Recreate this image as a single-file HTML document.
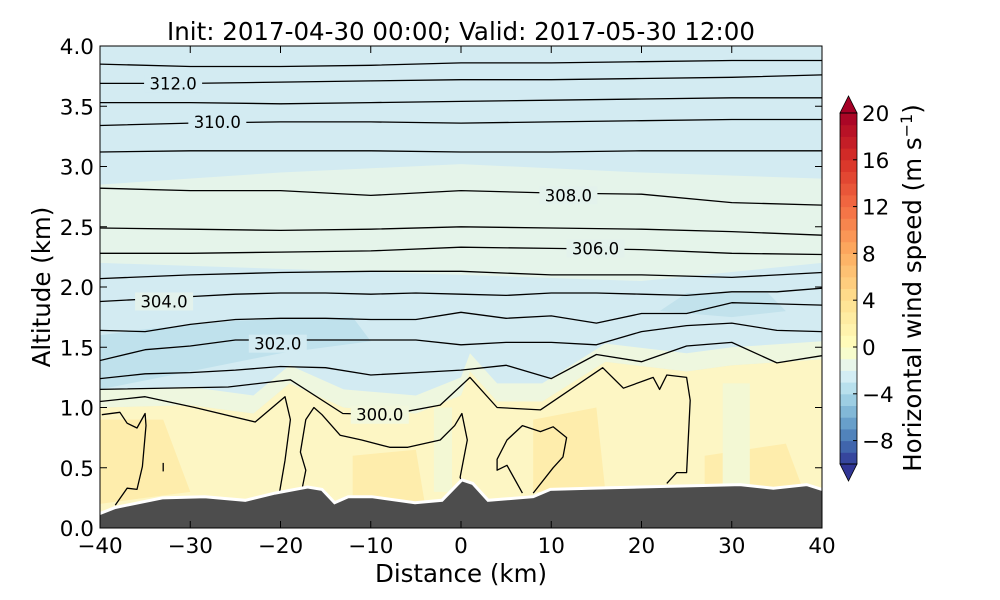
<!DOCTYPE html>
<html><head><meta charset="utf-8">
<style>
body{margin:0;background:#fff;}
svg{display:block;font-family:"DejaVu Sans","Liberation Sans",sans-serif;}
</style></head>
<body>
<svg id="chart" width="1000" height="600" viewBox="0 0 1000 600">
<text x="461" y="40" font-size="24.5" text-anchor="middle" fill="#000">Init: 2017-04-30 00:00; Valid: 2017-05-30 12:00</text>
<defs><clipPath id="plotclip"><rect x="100" y="46" width="722" height="482"/></clipPath></defs>
<g id="plot" clip-path="url(#plotclip)"></g>
<g id="axes"></g>
<g id="cbar"></g>
</svg>
<script>
// ---- data ----
const xTicks = [-40,-30,-20,-10,0,10,20,30,40];
const yTicks = [0.0,0.5,1.0,1.5,2.0,2.5,3.0,3.5,4.0];
const cbTicks = [-8,-4,0,4,8,12,16,20];
const terrainX = [-40,-38.3,-33.1,-28.4,-23.9,-20.6,-17.0,-15.4,-14.0,-12.5,-9.9,-5.1,-2.1,0.1,1.3,3.0,8.0,9.9,14.3,19.8,30.9,34.6,38.3,40];
const terrainZ = [0.12,0.17,0.25,0.26,0.23,0.29,0.34,0.32,0.21,0.26,0.26,0.21,0.23,0.40,0.37,0.23,0.26,0.32,0.33,0.34,0.36,0.33,0.36,0.32];
const coarseX = [-40,-30,-20,-10,0,10,20,30,40];
const lineU1 = [3.85,3.83,3.83,3.84,3.86,3.86,3.87,3.88,3.88];
const lineU2 = [3.69,3.69,3.70,3.71,3.72,3.72,3.73,3.74,3.76];
const lineU3 = [3.53,3.53,3.52,3.53,3.54,3.55,3.56,3.57,3.57];
const lineU4 = [3.34,3.36,3.37,3.37,3.36,3.37,3.38,3.39,3.39];
const lineU5 = [3.12,3.13,3.13,3.13,3.12,3.12,3.13,3.13,3.13];
const lineU6 = [2.82,2.80,2.80,2.76,2.80,2.78,2.77,2.70,2.68];
const lineU7 = [2.49,2.48,2.47,2.48,2.50,2.49,2.48,2.46,2.43];
const lineU8 = [2.28,2.28,2.29,2.30,2.33,2.32,2.31,2.28,2.27];
const lineU9 = [2.07,2.10,2.12,2.13,2.13,2.10,2.10,2.08,2.12];
const fineX = [-40,-35,-30,-25,-20,-15,-10,-5,0,5,10,15,20,25,30,35,40];
const lineL10 = [1.88,1.90,1.92,1.94,1.95,1.95,1.94,1.95,1.94,1.93,1.95,1.95,1.94,1.93,1.96,1.96,1.99];
const lineL11 = [1.64,1.63,1.69,1.73,1.74,1.74,1.73,1.73,1.79,1.74,1.76,1.70,1.78,1.78,1.87,1.86,1.85];
const lineL12 = [1.39,1.48,1.51,1.56,1.56,1.56,1.56,1.56,1.52,1.54,1.54,1.52,1.63,1.68,1.70,1.64,1.63];
const lineL13 = [1.24,1.28,1.29,1.31,1.34,1.33,1.27,1.29,1.31,1.35,1.24,1.44,1.38,1.51,1.54,1.37,1.43];
const line300 = [[-40,1.15],[-25.8,1.17],[-18.9,1.23],[-13.1,0.95],[-8,0.94],[-2.3,1.02],[1.0,1.25],[4.0,1.0],[8.8,0.98],[15.7,1.33],[18.0,1.16],[21.3,1.25],[22.0,1.15],[22.8,1.27],[25.0,1.25],[25.4,1.06],[25.0,0.46],[23.9,0.46],[22.8,0.37]];
const lineL15 = [[-40,1.05],[-35,1.09],[-29.5,1.0],[-22.8,0.88],[-19.5,1.09],[-18.9,0.90],[-19.5,0.56],[-20.1,0.30]];
const loopMid = [[-17.6,0.33],[-17.2,0.48],[-17.8,0.63],[-17.2,0.90],[-16.3,1.0],[-15.4,0.94],[-13.4,0.77],[-11.0,0.73],[-7.9,0.67],[-5.9,0.67],[-2.3,0.73],[-0.7,0.85],[0.1,0.95],[0.7,0.73],[-0.1,0.42],[0.3,0.35]];
const loopLeft = [[-39.8,0.94],[-37.8,0.96],[-37.0,0.87],[-35.9,0.83],[-35.0,0.95],[-34.9,0.85],[-35.3,0.51],[-35.9,0.32],[-37.0,0.33],[-38.3,0.19]];
const loopRight = [[8.0,0.29],[10.2,0.5],[11.3,0.59],[11.7,0.75],[10.2,0.84],[8.8,0.80],[6.8,0.85],[5.1,0.73],[4.0,0.57],[4.0,0.48],[5.1,0.52],[6.8,0.29]];
const smallTick = [[-33.0,0.54],[-33.0,0.47]];
const labelText = ["312.0","310.0","308.0","306.0","304.0","302.0","300.0"];
const labelX = [-31.9,-27.0,11.9,14.9,-32.9,-20.3,-9.0];
const labelZ = [3.69,3.37,2.76,2.32,1.88,1.53,0.94];
const yellowTopX = [-40,-30,-23,-19,-13,-5,0,1,4,9,16,25,30,40];
const yellowTopZ = [1.0,1.02,0.95,1.2,1.0,0.95,1.1,1.3,1.05,1.05,1.38,1.3,1.35,1.4];

// ---- scales ----
const X0=100,X1=822,Y0=528,Y1=46;
const sx = v => X0 + (v+40)/80*(X1-X0);
const sy = v => Y0 - v/4*(Y0-Y1);
const NS="http://www.w3.org/2000/svg";
function mk(tag, attrs, parent){const e=document.createElementNS(NS,tag);for(const k in attrs)e.setAttribute(k,attrs[k]);parent.appendChild(e);return e;}
const plot=document.getElementById('plot'), axes=document.getElementById('axes'), cbar=document.getElementById('cbar');
const pts = arr => arr.map(p=>sx(p[0]).toFixed(1)+','+sy(p[1]).toFixed(1)).join(' ');
const zip = (xs,zs) => xs.map((x,i)=>[x,zs[i]]);

// ---- background fields ----
let r=mk('rect',{x:100,y:46,width:722,height:482,fill:'#d3ebf2'},plot);


let g=mk('polygon',{points:pts([[-40,2.85],[-20,2.95],[0,3.02],[20,2.95],[40,2.9],[40,2.2],[20,2.05],[0,2.1],[-20,2.15],[-40,2.2]]),fill:'#e5f4ea'},plot);


let b1=mk('polygon',{points:pts([[-40,1.15],[-30,1.3],[-20,1.45],[-10,1.55],[-12,1.75],[-25,1.72],[-35,1.65],[-40,1.6]]),fill:'#bfe1ec'},plot);


let b2=mk('polygon',{points:pts([[22,1.8],[30,1.75],[36,1.8],[34,1.95],[25,1.95]]),fill:'#c2e2ec'},plot);


let pg=mk('polygon',{points:pts(zip(yellowTopX,yellowTopZ.map(z=>z+0.15)).concat(zip(yellowTopX,yellowTopZ).reverse())),fill:'#eef7df'},plot);


let yz=mk('polygon',{points:pts(zip(yellowTopX,yellowTopZ).concat([[40,0],[-40,0]])),fill:'#fdf6c4'},plot);


[[[-40,0.9],[-33,0.9],[-30,0.3],[-40,0.2]],[[-12,0.6],[-5,0.65],[-4,0.2],[-12,0.2]],[[8,0.9],[15,1.0],[16,0.3],[8,0.3]],[[27,0.6],[36,0.7],[38,0.3],[27,0.3]]].forEach(p=>{
 const e=mk('polygon',{points:pts(p),fill:'#feedac'},plot);
 
 
});
[[[-3,1.0],[-1,1.0],[-1,0.3],[-3,0.3]],[[29,1.2],[32,1.2],[32,0.3],[29,0.3]]].forEach(p=>{
 const e=mk('polygon',{points:pts(p),fill:'#f3f8d4'},plot);
 
 
});

// ---- contours ----
function line(arr,name){const e=mk('polyline',{points:pts(arr),fill:'none',stroke:'#000','stroke-width':1.3,'stroke-linejoin':'round'},plot);
 
 }
[lineU1,lineU2,lineU3,lineU4,lineU5,lineU6,lineU7,lineU8,lineU9].forEach((l,i)=>line(zip(coarseX,l),'isentrope-upper-'+(i+1)));
[lineL10,lineL11,lineL12,lineL13].forEach((l,i)=>line(zip(fineX,l),'isentrope-lower-'+(i+1)));
line(line300,'isentrope-300');
line(lineL15,'isentrope-300-branch');
line(loopMid,'isentrope-loop-mid');
line(loopLeft,'isentrope-loop-left');
line(loopRight,'isentrope-loop-right');
line(smallTick,'isentrope-fragment');
labelText.forEach((t,i)=>{
 const cx=sx(labelX[i]), cy=sy(labelZ[i]);
 const bg=mk('rect',{x:cx-29,y:cy-9,width:58,height:18,fill:i===6?'#f2f8dc':(i>=2&&i<=4?'#e3f2ec':'#d3ebf2')},plot);
 
 
 const tx=mk('text',{x:cx,y:cy+6,'font-size':16.5,'text-anchor':'middle',fill:'#000'},plot);
 tx.textContent=t;
 
 
});

// ---- terrain ----
const terr=zip(terrainX,terrainZ);
let tp=mk('polygon',{points:pts(terr.concat([[40,0],[-40,0]])),fill:'#4d4d4d'},plot);


let to=mk('polyline',{points:pts(terr),fill:'none',stroke:'#fff','stroke-width':3},plot);



// ---- axes ----
let fr=mk('rect',{x:100,y:46,width:722,height:482,fill:'none',stroke:'#000','stroke-width':1},axes);


xTicks.forEach(v=>{
 const x=sx(v);
 mk('line',{x1:x,y1:528,x2:x,y2:521,stroke:'#000'},axes);
 mk('line',{x1:x,y1:46,x2:x,y2:53,stroke:'#000'},axes);
 const t=mk('text',{x:x,y:553,'font-size':21.5,'text-anchor':'middle'},axes);
 t.textContent=v<0?'\u2212'+(-v):String(v);
 
 
});
yTicks.forEach(v=>{
 const y=sy(v);
 mk('line',{x1:100,y1:y,x2:107,y2:y,stroke:'#000'},axes);
 mk('line',{x1:822,y1:y,x2:815,y2:y,stroke:'#000'},axes);
 const t=mk('text',{x:94,y:y+8,'font-size':21.5,'text-anchor':'end'},axes);
 t.textContent=v.toFixed(1);
 
 
});
let xt=mk('text',{x:461,y:582,'font-size':24.5,'text-anchor':'middle'},axes);
xt.textContent='Distance (km)';


let yt=mk('text',{x:0,y:0,'font-size':24.5,'text-anchor':'middle',transform:'translate(50,287) rotate(-90)'},axes);
yt.textContent='Altitude (km)';



// ---- colorbar ----
const anchors=['#313695','#4575b4','#74add1','#abd9e9','#e0f3f8','#ffffbf','#fee090','#fdae61','#f46d43','#d73027','#a50026'];
function hex(h){return [1,3,5].map(i=>parseInt(h.substr(i,2),16));}
function cmap(f){const p=f*10,i=Math.min(9,Math.floor(p)),t=p-i;const a=hex(anchors[i]),b=hex(anchors[i+1]);return 'rgb('+a.map((c,k)=>Math.round(c+(b[k]-c)*t)).join(',')+')';}
const norm=v=>v<0?0.5+v/20:0.5+v/40;
const CBX=840,CBW=17;
const cy=v=>347-v*11.7;
for(let v=-10;v<20;v++){
 const e=mk('rect',{x:CBX,y:cy(v+1),width:CBW,height:cy(v)-cy(v+1)+0.5,fill:cmap(norm(v+0.5))},cbar);
 
 
}
let tu=mk('polygon',{points:`${CBX},${cy(20)} ${CBX+CBW},${cy(20)} ${CBX+CBW/2},${cy(20)-17}`,fill:'#a50026',stroke:'#000','stroke-width':0.8},cbar);


let td=mk('polygon',{points:`${CBX},${cy(-10)} ${CBX+CBW},${cy(-10)} ${CBX+CBW/2},${cy(-10)+17}`,fill:'#313695',stroke:'#000','stroke-width':0.8},cbar);


let cf=mk('rect',{x:CBX,y:cy(20),width:CBW,height:cy(-10)-cy(20),fill:'none',stroke:'#000','stroke-width':0.8},cbar);


cbTicks.forEach(v=>{
 const y=cy(v);
 mk('line',{x1:CBX+CBW-4,y1:y,x2:CBX+CBW,y2:y,stroke:'#000'},cbar);
 const t=mk('text',{x:862,y:y+8,'font-size':21.5},cbar);
 t.textContent=v<0?'\u2212'+(-v):String(v);
 
 
});
let ct=mk('text',{x:0,y:0,'font-size':24.5,'text-anchor':'middle',transform:'translate(921,288) rotate(-90)'},cbar);
ct.innerHTML='Horizontal wind speed (m s<tspan dy="-9" font-size="16">\u22121</tspan><tspan dy="9">)</tspan>';


</script>
</body></html>
